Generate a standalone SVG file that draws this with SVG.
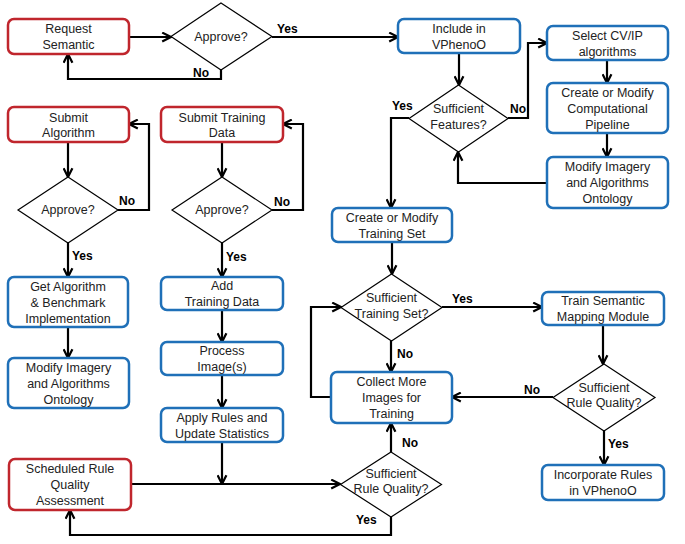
<svg xmlns="http://www.w3.org/2000/svg" width="685" height="544" viewBox="0 0 685 544">
<style>
.r{fill:#fff;stroke:#C0262D;stroke-width:2.5}
.b{fill:#fff;stroke:#1F70B8;stroke-width:2.5}
.d{fill:#fff;stroke:#000;stroke-width:1.2}
.t{font-family:"Liberation Sans",Arial,sans-serif;font-size:12.5px;fill:#222;text-anchor:middle}
.l{font-family:"Liberation Sans",Arial,sans-serif;font-size:12px;font-weight:bold;fill:#000}
.c{fill:none;stroke:#000;stroke-width:2.2;marker-end:url(#a)}
</style>
<defs>
<marker id="a" viewBox="0 0 10 10" refX="9" refY="5" markerWidth="5" markerHeight="5" orient="auto" markerUnits="strokeWidth">
<path d="M1,1 L9,5 L1,9" fill="none" stroke="#000" stroke-width="2"/>
</marker>
</defs>
<rect width="685" height="544" fill="#fff"/>
<g id="connectors">
<path class="c" d="M129,37 H171"/>
<path class="c" d="M272,37 H398"/>
<path class="c" d="M221,70 V79 H68 V54"/>
<path class="c" d="M459,53 V85"/>
<path class="c" d="M508,118 H528 V43 H547"/>
<path class="c" d="M607,60 V83"/>
<path class="c" d="M607,133 V157"/>
<path class="c" d="M547,183 H458 V152"/>
<path class="c" d="M409,118 H391 V208"/>
<path class="c" d="M392,242 V274"/>
<path class="c" d="M442,307 H542"/>
<path class="c" d="M603,325 V364"/>
<path class="c" d="M553,397 H452"/>
<path class="c" d="M604,431 V465"/>
<path class="c" d="M391,341 V372"/>
<path class="c" d="M331,397 H311 V307 H341"/>
<path class="c" d="M391,452 V423"/>
<path class="c" d="M131,484 H340"/>
<path class="c" d="M222,442 V484"/>
<path class="c" d="M391,517 V535 H70 V510"/>
<path class="c" d="M68,142 V177"/>
<path class="c" d="M118,210 H149 V124 H129"/>
<path class="c" d="M222,142 V177"/>
<path class="c" d="M272,210 H303 V124 H283"/>
<path class="c" d="M68,243 V277"/>
<path class="c" d="M222,243 V277"/>
<path class="c" d="M68,327 V358"/>
<path class="c" d="M222,310 V342"/>
<path class="c" d="M222,375 V408"/>
<text class="l" x="277" y="33">Yes</text>
<text class="l" x="193" y="77">No</text>
<text class="l" x="510" y="113">No</text>
<text class="l" x="392" y="110">Yes</text>
<text class="l" x="119" y="205">No</text>
<text class="l" x="274" y="206">No</text>
<text class="l" x="72" y="260">Yes</text>
<text class="l" x="226" y="261">Yes</text>
<text class="l" x="452" y="303">Yes</text>
<text class="l" x="397" y="358">No</text>
<text class="l" x="524" y="394">No</text>
<text class="l" x="608" y="448">Yes</text>
<text class="l" x="402" y="447">No</text>
<text class="l" x="356" y="524">Yes</text>
</g>
<g id="req"><rect class="r" x="8" y="19" width="121" height="35" rx="6"/><text class="t" x="68.5" y="33">Request</text><text class="t" x="68.5" y="49">Semantic</text></g>
<g id="approve1"><polygon class="d" points="221,3 272,36.5 221,70 171,36.5"/><text class="t" x="221" y="40.5">Approve?</text></g>
<g id="incl"><rect class="b" x="398" y="19" width="122" height="34" rx="6"/><text class="t" x="459" y="32.5">Include in</text><text class="t" x="459" y="48.5">VPhenoO</text></g>
<g id="features"><polygon class="d" points="458.5,85 508,118.5 458.5,152 409,118.5"/><text class="t" x="458.5" y="113">Sufficient</text><text class="t" x="458.5" y="129">Features?</text></g>
<g id="selcv"><rect class="b" x="547" y="26" width="121" height="34" rx="6"/><text class="t" x="607.5" y="39.5">Select CV/IP</text><text class="t" x="607.5" y="55.5">algorithms</text></g>
<g id="pipe"><rect class="b" x="547" y="83" width="121" height="50" rx="6"/><text class="t" x="607.5" y="96.5">Create or Modify</text><text class="t" x="607.5" y="112.5">Computational</text><text class="t" x="607.5" y="128.5">Pipeline</text></g>
<g id="modr"><rect class="b" x="547" y="157" width="121" height="51" rx="6"/><text class="t" x="607.5" y="171">Modify Imagery</text><text class="t" x="607.5" y="187">and Algorithms</text><text class="t" x="607.5" y="203">Ontology</text></g>
<g id="subalg"><rect class="r" x="8" y="107" width="121" height="35" rx="6"/><text class="t" x="68.5" y="121.5">Submit</text><text class="t" x="68.5" y="137">Algorithm</text></g>
<g id="subtd"><rect class="r" x="161" y="107" width="122" height="35" rx="6"/><text class="t" x="222" y="121.5">Submit Training</text><text class="t" x="222" y="137">Data</text></g>
<g id="approve2"><polygon class="d" points="68,177 118,210 68,243 18,210"/><text class="t" x="68" y="213.5">Approve?</text></g>
<g id="approve3"><polygon class="d" points="222,177 272,210 222,243 172,210"/><text class="t" x="222" y="213.5">Approve?</text></g>
<g id="getalg"><rect class="b" x="8" y="277" width="120" height="50" rx="6"/><text class="t" x="68" y="290.5">Get Algorithm</text><text class="t" x="68" y="306.5">&amp; Benchmark</text><text class="t" x="68" y="322.5">Implementation</text></g>
<g id="modl"><rect class="b" x="8" y="358" width="121" height="50" rx="6"/><text class="t" x="68.5" y="371.5">Modify Imagery</text><text class="t" x="68.5" y="387.5">and Algorithms</text><text class="t" x="68.5" y="403.5">Ontology</text></g>
<g id="addtd"><rect class="b" x="161" y="277" width="122" height="33" rx="6"/><text class="t" x="222" y="290">Add</text><text class="t" x="222" y="306">Training Data</text></g>
<g id="proc"><rect class="b" x="161" y="342" width="122" height="33" rx="6"/><text class="t" x="222" y="355">Process</text><text class="t" x="222" y="371">Image(s)</text></g>
<g id="apply"><rect class="b" x="161" y="408" width="122" height="34" rx="6"/><text class="t" x="222" y="421.5">Apply Rules and</text><text class="t" x="222" y="437.5">Update Statistics</text></g>
<g id="sched"><rect class="r" x="9" y="459" width="122" height="51" rx="6"/><text class="t" x="70" y="473">Scheduled Rule</text><text class="t" x="70" y="489">Quality</text><text class="t" x="70" y="505">Assessment</text></g>
<g id="trainset"><rect class="b" x="332" y="208" width="120" height="34" rx="6"/><text class="t" x="392" y="221.5">Create or Modify</text><text class="t" x="392" y="237.5">Training Set</text></g>
<g id="suftrain"><polygon class="d" points="391.5,274 442,307.5 391.5,341 341,307.5"/><text class="t" x="391.5" y="301.5">Sufficient</text><text class="t" x="391.5" y="317.5">Training Set?</text></g>
<g id="trainsem"><rect class="b" x="542" y="292" width="122" height="33" rx="6"/><text class="t" x="603" y="305">Train Semantic</text><text class="t" x="603" y="321">Mapping Module</text></g>
<g id="rq1"><polygon class="d" points="604,364 655,397.5 604,431 553,397.5"/><text class="t" x="604" y="391.5">Sufficient</text><text class="t" x="604" y="407">Rule Quality?</text></g>
<g id="incorp"><rect class="b" x="542" y="465" width="122" height="35" rx="6"/><text class="t" x="603" y="479">Incorporate Rules</text><text class="t" x="603" y="495">in VPhenoO</text></g>
<g id="collect"><rect class="b" x="331" y="372" width="121" height="51" rx="6"/><text class="t" x="391.5" y="386">Collect More</text><text class="t" x="391.5" y="402">Images for</text><text class="t" x="391.5" y="418">Training</text></g>
<g id="rq2"><polygon class="d" points="391,452 441.5,484.5 391,517 340.5,484.5"/><text class="t" x="391" y="477.5">Sufficient</text><text class="t" x="391" y="493">Rule Quality?</text></g>
</svg>
